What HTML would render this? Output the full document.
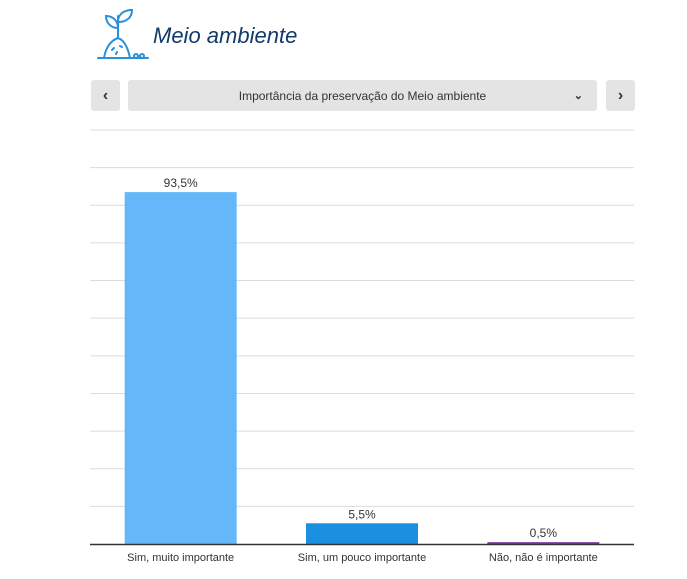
<!DOCTYPE html>
<html><head><meta charset="utf-8">
<style>
body{margin:0;width:687px;height:579px;background:#fff;font-family:"Liberation Sans",sans-serif;overflow:hidden;position:relative}
.btn{position:absolute;top:80px;height:31px;background:#e4e4e4;border-radius:3px;color:#333;font-size:12px;display:flex;align-items:center;justify-content:center}
.arr{font-size:16px;font-weight:bold}
</style></head><body>
<svg style="position:absolute;left:96px;top:8px" width="56" height="52" viewBox="0 0 56 52" fill="none" stroke="#2b8fd9" stroke-width="2" stroke-linecap="round">
<path d="M2 50H52"/><path d="M8 50C10 38 16 32 22 30C28 32 32 40 34 50"/><path d="M22 30V8"/><path d="M22 20C14 20 10 14 10 8C18 8 22 14 22 20Z"/><path d="M22 14C22 6 28 2 36 2C36 10 30 14 22 14Z"/><circle cx="40" cy="48" r="2"/><circle cx="46" cy="48" r="2"/><path d="M16 42l2-2M24 38l2 1M20 46l1-2"/>
</svg>
<div style="position:absolute;left:153px;top:23px;font-size:22px;font-style:italic;color:#123a6b">Meio ambiente</div>
<div class="btn arr" style="left:91px;width:29px">&#8249;</div>
<div class="btn" style="left:128px;width:469px">Importância da preservação do Meio ambiente<span style="position:absolute;right:14px;font-size:11px;font-weight:bold">&#8964;</span></div>
<div class="btn arr" style="left:606px;width:29px">&#8250;</div>
<svg id="chart" style="position:absolute;left:0;top:0" width="687" height="579"></svg>
<script>
const categories=["Sim, muito importante","Sim, um pouco importante","Não, não é importante"];
const values=[93.5,5.5,0.5];
const labels=["93,5%","5,5%","0,5%"];
const colors=["#64b8fa","#1b8fe0","#7a3fa0"];
const ticks=[0,10,20,30,40,50,60,70,80,90,100,110];
const svg=document.getElementById('chart');const NS='http://www.w3.org/2000/svg';
const x0=90,x1=634,yb=544,yt=130,max=110;
const y=v=>yb-(v/max)*(yb-yt);
const band=(x1-x0)/categories.length;
function mk(t,a){const e=document.createElementNS(NS,t);for(const k in a)e.setAttribute(k,a[k]);svg.appendChild(e);return e;}
ticks.forEach(t=>{if(t===0)return;const l=mk('line',{x1:x0,x2:x1,y1:y(t),y2:y(t),stroke:'#dcdcdc','stroke-width':1});

});
values.forEach((v,i)=>{const cx=x0+band*(i+0.5);const w=112;
const r=mk('rect',{x:cx-w/2,y:y(v),width:w,height:Math.max(yb-y(v),2),fill:colors[i]});


const t=mk('text',{x:cx,y:y(v)-5,'text-anchor':'middle','font-size':12,fill:'#333','font-family':'Liberation Sans, sans-serif'});t.textContent=labels[i];


const c=mk('text',{x:cx,y:561,'text-anchor':'middle','font-size':11,fill:'#333','font-family':'Liberation Sans, sans-serif'});c.textContent=categories[i];

});
const ax=mk('line',{x1:x0,x2:x1,y1:yb+0.5,y2:yb+0.5,stroke:'#333','stroke-width':1.5});


</script>
</body></html>
